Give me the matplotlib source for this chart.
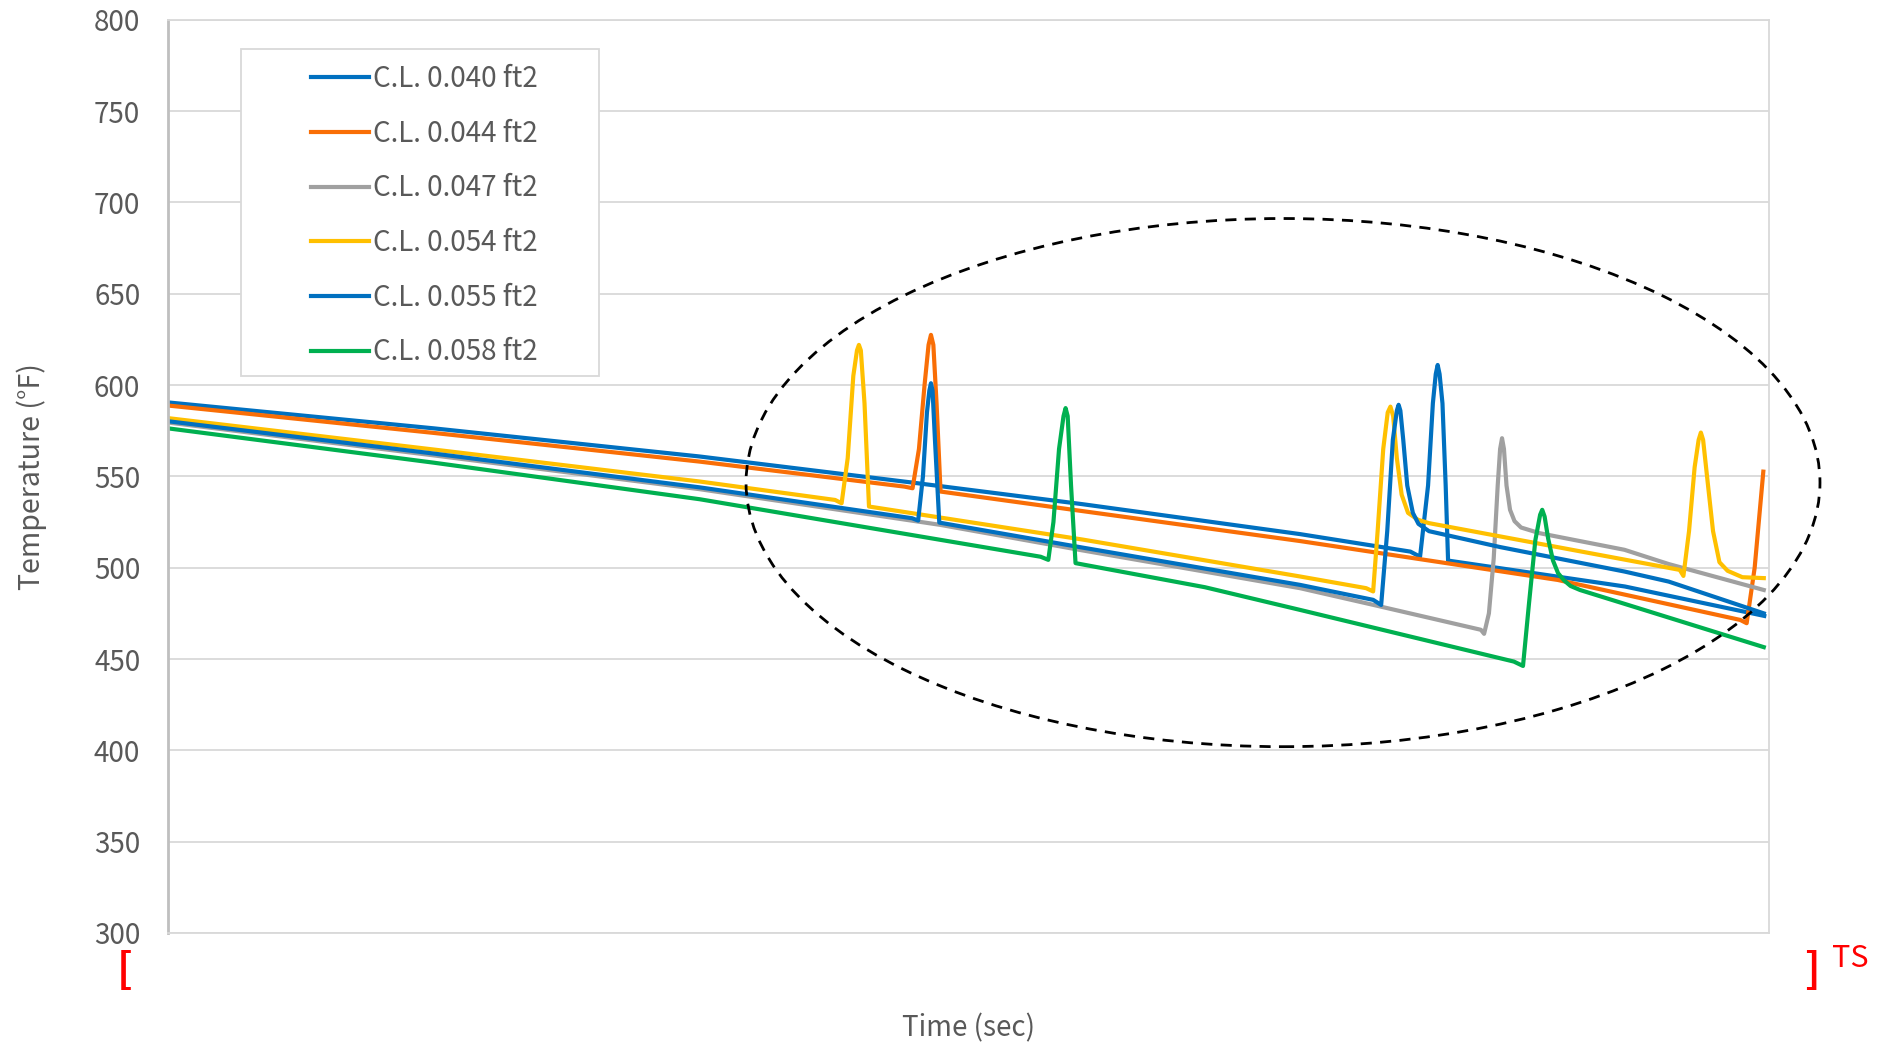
import matplotlib.pyplot as plt
from matplotlib.patches import Ellipse, Rectangle

plt.rcParams['font.family'] = ['Noto Sans CJK KR', 'DejaVu Sans']

# time axis has no tick labels, so time runs on a plain 0-1000 scale
labels = ['C.L. 0.040 ft2', 'C.L. 0.044 ft2', 'C.L. 0.047 ft2',
          'C.L. 0.054 ft2', 'C.L. 0.055 ft2', 'C.L. 0.058 ft2']
colors = ['#0070C0', '#F96E06', '#A0A0A0', '#FFC000', '#0070C0', '#00B050']

t_040 = [0, 166, 332, 465, 571, 707, 776, 782, 787, 790, 791.8, 793, 794.2, 796, 798, 799.5,
         910, 997]
T_040 = [590.5, 576.3, 560.9, 546.6, 534.8, 518.4, 508.8, 506, 545, 590, 606, 611, 606, 590,
         545, 503.9, 489.7, 473.6]

t_044 = [0, 166, 332, 460, 465, 469, 472.5, 475, 476.5, 478, 480, 482.5, 707, 868, 982, 986,
         991, 996.4]
T_044 = [588.8, 573.8, 558.1, 544.4, 543.5, 565, 600, 622, 627.5, 622, 590, 541.7, 514.6, 493.3,
         471.4, 469.6, 500, 552.6]

t_047 = [0, 166, 332, 482, 571, 707, 753, 820, 822, 825, 828, 830.5, 832, 833.2, 834.4,
         836, 838.2, 841, 845.1, 856.7, 909.7, 937.3, 996.7]
T_047 = [579.5, 561.5, 543, 523.5, 509.5, 488.8, 479.6, 466, 463.8, 475, 505, 545, 565, 570.9,
         565, 545, 531.7, 525.5, 522, 518.9, 509.8, 502, 487.8]

t_054 = [0, 166, 332, 416.6, 420.7, 424.5, 428, 430.3, 431.5, 432.7, 435, 437.8, 571.3, 707,
         748.3, 752.7, 755.5, 759, 761.8, 763.5, 765.2, 767.5, 770.5, 774.5, 780.8, 787.6,
         944.2, 946.5, 950, 953.5, 956, 957.4, 958.8, 961.5, 965, 969, 974.1, 983.3, 996.7]
T_054 = [581.9, 564.7, 547.2, 537.1, 535.3, 560, 605, 619, 622, 619, 590, 533.5, 515.4, 495.2,
         488.8, 487, 520, 565, 585, 588.2, 583, 560, 540, 530, 526.2, 524.4,
         498.8, 495.5, 520, 555, 570, 574, 570, 548, 520, 503, 498.3, 494.8, 494.3]

t_055 = [0, 166, 332, 464.7, 468.5, 471.5, 474, 475.5, 476.5, 477.5, 479, 481.7, 571.3, 707,
         752.7, 757.7, 761.5, 765, 767.5, 768.6, 769.7, 771.5, 774, 777.5, 781, 787.6, 832,
         909.7, 937.3, 996.7]
T_055 = [580.2, 562.5, 544, 527.1, 525.8, 550, 585, 597, 601, 597, 570, 524.7, 511, 490.6,
         482.4, 479.6, 520, 570, 586, 589.2, 586, 570, 545, 530, 524, 520, 511.3,
         497.9, 492.4, 475]

t_058 = [0, 166, 332, 545, 549.8, 553, 556.5, 559.3, 560.6, 561.9, 564, 566.8, 647.7, 707,
         840.6, 846.3, 850, 854, 857, 858.3, 859.8, 862, 865, 868.2, 872, 876, 881.9, 996.7]
T_058 = [576.3, 557.5, 537.5, 506, 504.3, 525, 565, 583, 587.4, 583, 545, 502.5, 489.3, 476.9,
         448.6, 446.2, 480, 515, 529, 531.7, 528, 516, 504, 497, 493, 490, 487.8, 456.5]

series = [(t_040, T_040), (t_044, T_044), (t_047, T_047),
          (t_054, T_054), (t_055, T_055), (t_058, T_058)]

fig = plt.figure(figsize=(18.78, 10.43), dpi=100)
ax = fig.add_axes([0.0895, 0.1055, 0.8525, 0.8755])

for (t, T), lab, c in zip(series, labels, colors):
    ax.plot(t, T, color=c, lw=3.0, label=lab, solid_joinstyle='round')

ax.set_xlim(0, 1000)
ax.set_ylim(300, 800)
ax.set_yticks(range(300, 801, 50))
ax.set_xticks([])
ax.grid(axis='y', color='#D9D9D9', lw=1.3)
ax.set_axisbelow(True)
ax.tick_params(axis='y', length=0, pad=20, labelsize=20, labelcolor='#595959')
for side in ['top', 'right', 'bottom']:
    ax.spines[side].set_color('#D9D9D9')
    ax.spines[side].set_linewidth(1.3)
ax.spines['left'].set_color('#BFBFBF')
ax.spines['left'].set_linewidth(2)

ax.set_ylabel('Temperature (°F)', fontsize=20.5, color='#595959', labelpad=34)
ax.set_xlabel('Time (sec)', fontsize=20, color='#595959', labelpad=58)

# dashed ellipse around the spike region
ell = Ellipse((696.4, 546.6), 670.8, 289.2, fill=False, ls=(0, (4, 3)),
              lw=2, ec='black', clip_on=False, zorder=5)
ax.add_patch(ell)

# legend box
ax.add_patch(Rectangle((0.0456, 0.610), 0.2236, 0.358, transform=ax.transAxes,
                       fc='white', ec='#D9D9D9', lw=1.3, zorder=6))
leg = ax.legend(loc='upper left', bbox_to_anchor=(0.0805, 0.967), frameon=False,
                fontsize=20, handlelength=2.1, handletextpad=0.12, labelspacing=0.89,
                labelcolor='#595959', borderpad=0)
leg.set_zorder(7)

# bracket marks below the plot
fig.text(124.5 / 1878, 1 - 971 / 1043, '[', color='red', fontsize=30, fontweight='bold',
         ha='center', va='center')
fig.text(1811.5 / 1878, 1 - 971 / 1043, ']', color='red', fontsize=30, fontweight='bold',
         ha='center', va='center')
fig.text(1832 / 1878, 1 - 943 / 1043, 'TS', color='red', fontsize=22,
         ha='left', va='top')

fig.savefig('out.png', dpi=100)
